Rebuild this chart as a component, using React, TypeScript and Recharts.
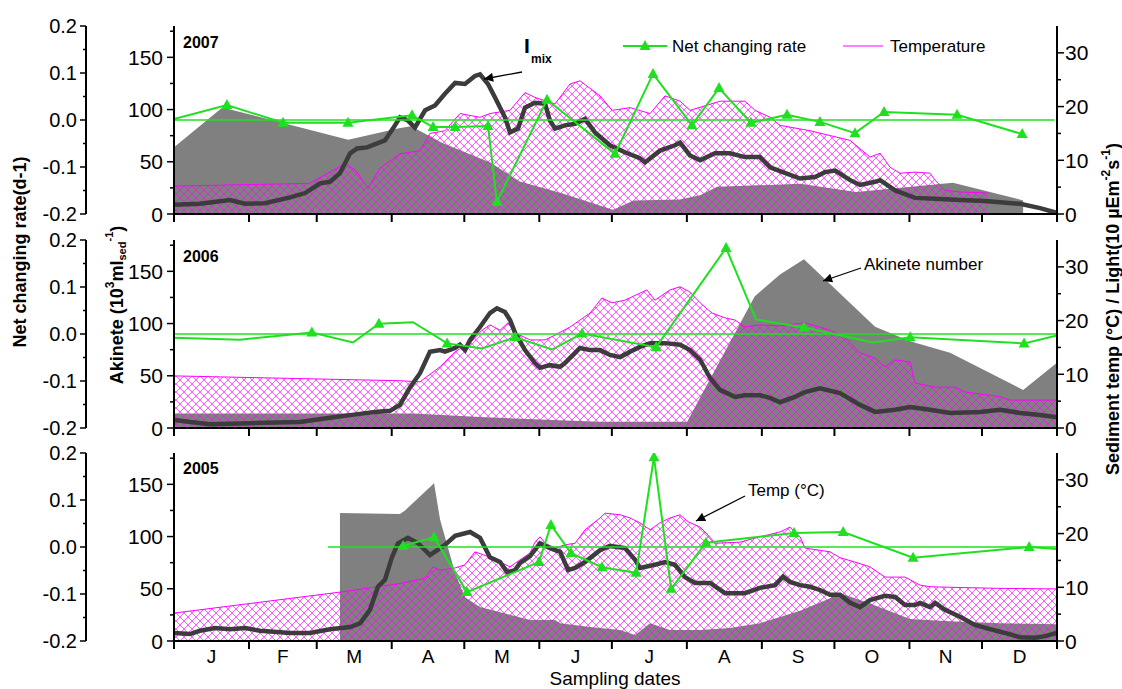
import React from 'react';
import { ComposedChart, Area, Line, XAxis, YAxis } from 'recharts';

// x axis is day of year
const monthStarts = [0, 31, 59, 90, 120, 151, 181, 212, 243, 273, 304, 334, 365];
const monthLetters = ['J', 'F', 'M', 'A', 'M', 'J', 'J', 'A', 'S', 'O', 'N', 'D'];
const akTicks = [0, 25, 50, 75, 100, 125, 150, 175];
const rateTicks = [-0.2, -0.15, -0.1, -0.05, 0, 0.05, 0.1, 0.15, 0.2];
const rightTicks = [0, 5, 10, 15, 20, 25, 30];

// ---- 2007 ----
const akinete2007 = [[0, 64], [20, 102], [72, 71], [93, 82], [98, 84], [111, 68], [131, 49], [143, 31], [160, 20], [181.5, 4], [190, 13], [209, 14], [217.5, 18], [224.5, 26], [259, 29], [282, 21], [322, 30], [351, 13]];
const temp2007 = [[0, 5.2], [56, 5.7], [64.5, 7.8], [70.7, 9.4], [75, 8.2], [80.2, 4.8], [85, 8.5], [93.4, 11.2], [101.7, 11.8], [105.8, 15], [112, 15.5], [118.2, 18.7], [126.5, 18], [130.6, 18.7], [138.9, 19.3], [145.1, 22.6], [149.2, 21.7], [157.5, 20.5], [163.7, 24.2], [167.8, 24.8], [176.1, 22], [181.1, 19.3], [188.5, 19.8], [196.8, 18.7], [203, 22], [209.2, 21], [213.3, 19.3], [225.7, 21], [236, 21], [240.2, 19.3], [246.4, 18], [250.5, 16.5], [262.9, 15.5], [271.2, 14.6], [279.5, 13.7], [287.7, 10.6], [291.9, 11.3], [296, 8.7], [300.1, 7.6], [306.3, 7.8], [312.5, 7.6], [314.6, 6.3], [318.7, 4.4], [324.9, 4.1], [336.5, 3.9]];
const imix2007 = [[0, 1.7], [10.7, 1.9], [23.1, 2.6], [29.4, 1.9], [37.6, 2], [48, 3.1], [54.2, 3.9], [60.4, 5.7], [64.5, 6], [68.6, 7.6], [72.8, 11.3], [75.7, 12.2], [79.8, 12.4], [87.2, 13.7], [90.5, 15.9], [93.4, 18], [96.7, 17.4], [99.6, 16.1], [103.8, 19.3], [107.9, 20.2], [112, 22.4], [116.2, 24.4], [120.3, 24.2], [124.4, 25.7], [126.5, 26], [129.8, 24.2], [132.7, 21.7], [136.8, 18], [138.9, 15.2], [142.2, 15.9], [145.1, 19.8], [149.2, 20.7], [153.4, 20.5], [155.4, 17.4], [157.5, 15.9], [161.6, 16.5], [165.8, 16.8], [169.9, 17.7], [174, 15.2], [180.2, 12.8], [186.4, 11.5], [192.6, 10.4], [194.7, 9.6], [200.9, 11.8], [207.1, 12.8], [209.2, 13.3], [213.3, 10.9], [217.5, 10], [223.6, 11.3], [229.8, 11.3], [236, 10.6], [242.2, 10.6], [246.4, 8.7], [250.5, 8], [258.8, 6.6], [265, 6.9], [269.1, 7.8], [273.3, 8.1], [279.5, 6.3], [283.6, 5.4], [289.8, 6], [291.9, 6.3], [298.1, 4.4], [306.3, 3], [316.7, 2.8], [324.9, 2.6], [335.3, 2.4], [341.5, 2.2], [349.7, 1.9], [358, 1.1], [365, 0.2]];
// [day, rate, sampled]
const rate2007 = [[0, 0.002, 0], [21.9, 0.032, 1], [45.1, -0.006, 1], [71.9, -0.006, 1], [98.4, 0.01, 1], [107.1, -0.015, 1], [116.2, -0.015, 1], [129.8, -0.013, 1], [133.5, -0.174, 1], [154.2, 0.043, 1], [182.3, -0.072, 1], [198, 0.098, 1], [214.1, -0.011, 1], [225.3, 0.068, 1], [238.5, -0.006, 1], [253.4, 0.011, 1], [267, -0.004, 1], [281.5, -0.028, 1], [293.5, 0.017, 1], [323.7, 0.011, 1], [350.6, -0.03, 1]];
const zero2007 = [[0, 0], [364, 0]];

// ---- 2006 ----
const akinete2006 = [[0, 14], [99, 14], [126.5, 10.5], [176, 6], [212.1, 6], [240, 126], [250.5, 147], [260.4, 161.5], [289.8, 97], [304.3, 83], [320.8, 72], [351, 36.5], [365, 62.5]];
const temp2006 = [[0, 9.7], [93.4, 8.8], [101.7, 8.6], [110, 11.4], [116.2, 14.2], [122.4, 15.8], [127.3, 18.2], [130.6, 19.2], [134.8, 18.2], [138.1, 19.6], [141, 17.7], [147.2, 16.4], [153.4, 16.4], [157.5, 17.3], [163.7, 18.8], [172, 21.4], [176.9, 24.2], [181.1, 23.3], [186.4, 23.8], [192.6, 25.1], [195.5, 25.7], [198.8, 23.8], [205, 25.7], [209.2, 26.3], [213.3, 25.3], [217.5, 23.3], [222.4, 21.4], [227.8, 20.5], [231.9, 20.1], [236, 18.8], [242.2, 19.2], [250.5, 19], [260.8, 19.6], [271.2, 18.2], [277.4, 16.8], [283.6, 14], [289.8, 13], [293.9, 11.4], [298.1, 12.7], [304.3, 12.3], [306.3, 8.4], [314.6, 7.6], [322.9, 7.6], [327, 6.7], [337.3, 6.1], [341.5, 5.8], [345.6, 5.2], [365, 5.2]];
const imix2006 = [[0, 1.5], [6.6, 1.1], [14.9, 0.7], [31.4, 0.9], [52.1, 1.1], [64.5, 1.9], [72.8, 2.4], [83.1, 3], [89.3, 3.2], [93.4, 4.3], [97.6, 7.6], [101.7, 10.2], [105.8, 14.2], [110, 14.5], [112, 14.2], [116.2, 14.9], [118.2, 15.5], [120.3, 14.5], [122.4, 16.4], [126.5, 18.8], [130.6, 21.4], [133.5, 22.3], [136.8, 21.6], [138.9, 20.1], [141, 17.7], [145.1, 14.5], [149.2, 12.1], [151.3, 11.2], [155.4, 11.7], [159.6, 11.4], [161.6, 12.1], [165.8, 14], [167.8, 14.9], [172, 14.5], [176.1, 14.5], [180.2, 13.6], [184.4, 13.2], [188.5, 14.2], [192.6, 15.1], [196.8, 15.8], [203, 15.8], [209.2, 15.5], [213.3, 14.5], [217.5, 12.7], [221.6, 9.3], [225.7, 7.1], [231.9, 5.8], [236, 6.1], [242.2, 6.1], [246.4, 5.6], [250.5, 4.8], [256.7, 5.8], [260.8, 6.7], [267, 7.4], [275.3, 6.5], [283.6, 4.3], [289.8, 3], [298.1, 3.4], [304.3, 3.9], [312.5, 3.4], [320.8, 2.8], [333.2, 3], [341.5, 3.4], [349.7, 2.8], [358, 2.4], [365, 2]];
const rate2006 = [[0, -0.008, 0], [27.3, -0.012, 0], [57, 0.003, 1], [74, -0.018, 0], [84.7, 0.022, 1], [98.8, 0.025, 0], [112.9, -0.02, 1], [127.3, -0.031, 0], [141, -0.007, 1], [156.3, -0.033, 0], [168.7, 0.001, 1], [199.3, -0.028, 1], [228.2, 0.183, 1], [240.6, 0.031, 0], [260.4, 0.014, 1], [289, -0.018, 0], [304.3, -0.007, 1], [351.4, -0.02, 1], [365, -0.003, 0]];
const zero2006 = [[0, 0], [365, 0]];

// ---- 2005 ----
const akinete2005 = [[68.6, 122.5], [93.4, 121.5], [95.5, 125], [107.5, 151], [110, 116], [116.2, 65], [120.3, 42], [126.5, 32.5], [147.2, 20], [157.5, 20], [159.6, 17], [172, 13.4], [184.4, 10.5], [190.6, 5.7], [196.8, 17], [205, 10.5], [217.5, 10.5], [229.8, 12.4], [242.2, 17], [250.5, 23], [258.8, 29], [271.2, 41], [275.3, 46], [287.7, 36], [304.3, 21], [320.8, 19], [341.5, 17], [365, 16]];
const temp2005 = [[0, 5.2], [68.6, 9.1], [93.4, 10.7], [103.8, 11.7], [107.1, 13.8], [110, 13.2], [116.2, 13.6], [120.3, 14.2], [124.4, 16.6], [130.6, 15.6], [134.8, 14.7], [138.9, 13.8], [143, 15.1], [147.2, 16.4], [149.2, 18.4], [151.3, 19.4], [153.4, 18.2], [157.5, 17.3], [161.6, 17.9], [165.8, 18.2], [169.9, 20.7], [176.1, 22.9], [178.2, 23.8], [184.4, 23.5], [188.5, 22.9], [192.6, 22], [196.8, 20.7], [200.9, 22], [205, 22.9], [209.2, 23.5], [212.5, 22.2], [217.5, 21.2], [220.8, 19.7], [223.6, 18.2], [234, 18.4], [242.2, 19.4], [250.5, 20.3], [254.6, 21.2], [258.8, 19.4], [260.8, 17.3], [271.2, 16.6], [275.3, 15.5], [281.5, 14.7], [287.7, 13.8], [293.9, 11.9], [302.2, 11.9], [308.4, 10.4], [312.5, 10.1], [320.8, 10], [341.5, 9.8], [365, 9.7]];
const imix2005 = [[0, 1.5], [6.6, 1.3], [10.7, 1.9], [17, 2.4], [23.1, 2.2], [29.4, 2.4], [35.6, 1.9], [48, 1.5], [56.2, 1.5], [64.5, 2.2], [72.8, 2.6], [76.9, 3.3], [81, 5.8], [84.3, 10.1], [87.2, 11.4], [90.1, 15.6], [92.6, 18.2], [96.7, 19.2], [100.9, 18.2], [105.8, 16], [112, 17.9], [116.2, 19.6], [122.4, 20.3], [126.5, 19.2], [130.6, 15.6], [134.8, 14.7], [137.7, 12.8], [141, 13.2], [143, 14.5], [147.2, 15.8], [151.3, 18.2], [155.4, 17.3], [159.6, 16.6], [162.9, 13.2], [165.8, 13.6], [169.9, 14.7], [176.1, 16.9], [180.2, 17.7], [186.4, 17.3], [190.6, 15.1], [192.6, 13.6], [198.8, 14.2], [203, 14.7], [207.1, 14.2], [211.2, 11.9], [215.4, 10.8], [221.6, 10.8], [227.8, 8.9], [236, 8.9], [242.2, 9.9], [248.5, 10.4], [251.8, 12], [254.6, 11], [258.8, 10.4], [262.9, 10.1], [267, 9.5], [271.2, 8.6], [275.3, 8.6], [279.5, 7.1], [283.6, 6.3], [287.7, 7.6], [293.9, 8.4], [298.1, 8.2], [302.2, 6.7], [306.3, 6.7], [308.4, 7.1], [312.5, 6.3], [314.6, 7.1], [318.7, 5.8], [324.9, 4.5], [331.1, 3], [337.3, 2.2], [343.5, 1.5], [349.7, 0.7], [355.9, 0.6], [360.1, 0.9], [365, 1.5]];
const rate2005 = [[94.7, 0.002, 1], [107.5, 0.021, 1], [121.1, -0.096, 1], [150.9, -0.032, 1], [155.8, 0.047, 1], [164.1, -0.013, 1], [176.9, -0.043, 1], [191, -0.055, 1], [198.4, 0.191, 1], [205.5, -0.089, 1], [219.9, 0.009, 1], [256.3, 0.03, 1], [276.6, 0.032, 1], [305.5, -0.023, 1], [353.5, 0.0, 1], [365, -0.004, 0]];
const zero2005 = [[63.7, 0], [365, 0]];

const GREEN = '#1fe01f';
const MAGENTA = '#ff00ff';
const PLOT_W = 883;
const PX_PER_DAY = PLOT_W / 365;

const pts = (arr) => arr.map((p) => ({ day: p[0], v: p[1], sampled: p[2] === 1 }));

const AkTick = (props) => {
  const { x, y, payload } = props;
  const major = payload.value % 50 === 0;
  return (
    <g>
      <line x1={x} x2={x - (major ? 7 : 4)} y1={y} y2={y} stroke="#000" strokeWidth={1.5} />
      {major && (
        <text x={x - 11} y={y} dy="0.36em" textAnchor="end" fontSize={21} fill="#000">
          {payload.value}
        </text>
      )}
    </g>
  );
};

const RateTick = (props) => {
  const { x, y, payload } = props;
  const v = payload.value;
  const major = Math.abs(v * 10 - Math.round(v * 10)) < 1e-6;
  return (
    <g>
      <line x1={x} x2={x - (major ? 6 : 3)} y1={y} y2={y} stroke="#000" strokeWidth={1.5} />
      {major && (
        <text x={x - 9} y={y} dy="0.36em" textAnchor="end" fontSize={20} fill="#000">
          {v.toFixed(1)}
        </text>
      )}
    </g>
  );
};

const RightTick = (props) => {
  const { x, y, payload } = props;
  const major = payload.value % 10 === 0;
  return (
    <g>
      <line x1={x} x2={x + (major ? 7 : 4)} y1={y} y2={y} stroke="#000" strokeWidth={1.5} />
      {major && (
        <text x={x + 8} y={y} dy="0.36em" textAnchor="start" fontSize={21} fill="#000">
          {payload.value}
        </text>
      )}
    </g>
  );
};

const monthTick = (labels) => (props) => {
  const { x, y, payload } = props;
  const i = monthStarts.indexOf(payload.value);
  const mid = i >= 0 && i < 12 ? x + ((monthStarts[i + 1] - monthStarts[i]) / 2) * PX_PER_DAY : x;
  return (
    <g>
      <line x1={x} x2={x} y1={y} y2={y + 8} stroke="#000" strokeWidth={2} />
      {labels && i >= 0 && i < 12 && (
        <text x={mid} y={y + 22} textAnchor="middle" fontSize={19} fill="#000">
          {monthLetters[i]}
        </text>
      )}
    </g>
  );
};

const TriangleDot = (props) => {
  const { cx, cy, payload, index } = props;
  if (!payload || !payload.sampled || cx == null || cy == null) return <g key={`n${index}`} />;
  return <polygon key={`t${index}`} points={`${cx},${cy - 6} ${cx - 5.5},${cy + 4} ${cx + 5.5},${cy + 4}`} fill={GREEN} />;
};

const axisStyle = { stroke: '#000', strokeWidth: 2 };
const M_TOP = 16;

const Panel = ({ top, akinete, temp, imix, rate, zero, last }) => (
  <div style={{ position: 'absolute', left: 0, top: top - M_TOP }}>
    <ComposedChart width={1122} height={M_TOP + 188 + (last ? 34 : 16)} margin={{ top: M_TOP, right: 15, bottom: 0, left: 26 }}>
      <XAxis
        type="number"
        dataKey="day"
        domain={[0, 365]}
        ticks={monthStarts}
        interval={0}
        allowDataOverflow
        tickSize={0}
        tickMargin={0}
        height={last ? 34 : 16}
        axisLine={axisStyle}
        tickLine={false}
        tick={monthTick(last)}
      />
      <YAxis yAxisId="ak" domain={[0, 180]} ticks={akTicks} interval={0} width={88} tickSize={0} tickMargin={0} axisLine={axisStyle} tickLine={false} tick={AkTick} allowDataOverflow />
      <YAxis yAxisId="rate" domain={[-0.2, 0.2]} ticks={rateTicks} interval={0} width={60} tickSize={0} tickMargin={0} axisLine={axisStyle} tickLine={false} tick={RateTick} allowDataOverflow />
      <YAxis yAxisId="r" orientation="right" domain={[0, 35]} ticks={rightTicks} interval={0} width={50} tickSize={0} tickMargin={0} axisLine={axisStyle} tickLine={false} tick={RightTick} allowDataOverflow />

      <Area yAxisId="ak" data={pts(akinete)} dataKey="v" type="linear" fill="#808080" fillOpacity={1} stroke="none" isAnimationActive={false} />
      <Area yAxisId="r" data={pts(temp)} dataKey="v" type="linear" fill="url(#magentaHatch)" fillOpacity={1} stroke={MAGENTA} strokeWidth={1} isAnimationActive={false} />
      <Line yAxisId="r" data={pts(imix)} dataKey="v" type="linear" stroke="#3c3c3c" strokeWidth={4.5} dot={false} isAnimationActive={false} />
      <Line yAxisId="rate" data={pts(zero)} dataKey="v" type="linear" stroke={GREEN} strokeWidth={1.5} dot={false} isAnimationActive={false} />
      <Line yAxisId="rate" data={pts(rate)} dataKey="v" type="linear" stroke={GREEN} strokeWidth={2} dot={TriangleDot} isAnimationActive={false} />
    </ComposedChart>
  </div>
);

const App = () => (
  <div style={{ position: 'absolute', left: 0, top: 0, width: 1122, height: 689, background: '#fff', fontFamily: '"Liberation Sans", Arial, sans-serif', overflow: 'hidden' }}>
    <svg width={0} height={0} style={{ position: 'absolute' }}>
      <defs>
        <pattern id="magentaHatch" patternUnits="userSpaceOnUse" width={8} height={8}>
          <path d="M0,0 L8,8 M8,0 L0,8" stroke={MAGENTA} strokeWidth={0.9} strokeOpacity={0.7} fill="none" />
        </pattern>
      </defs>
    </svg>

    <Panel top={26} akinete={akinete2007} temp={temp2007} imix={imix2007} rate={rate2007} zero={zero2007} last={false} />
    <Panel top={240} akinete={akinete2006} temp={temp2006} imix={imix2006} rate={rate2006} zero={zero2006} last={false} />
    <Panel top={453} akinete={akinete2005} temp={temp2005} imix={imix2005} rate={rate2005} zero={zero2005} last />

    <svg width={1122} height={689} style={{ position: 'absolute', left: 0, top: 0, pointerEvents: 'none' }}>
      <defs>
        <marker id="arrowHead" viewBox="0 0 10 10" refX={10} refY={5} markerWidth={9} markerHeight={7} orient="auto">
          <path d="M0,0 L10,5 L0,10 z" fill="#000" />
        </marker>
      </defs>

      {/* panel years */}
      <text x={183} y={48} fontSize={16} fontWeight="bold">2007</text>
      <text x={183} y={262} fontSize={16} fontWeight="bold">2006</text>
      <text x={183} y={474} fontSize={16} fontWeight="bold">2005</text>

      {/* legend */}
      <line x1={623} x2={667} y1={46} y2={46} stroke={GREEN} strokeWidth={2} />
      <polygon points="645,40 639.5,50 650.5,50" fill={GREEN} />
      <text x={672} y={52} fontSize={17}>Net changing rate</text>
      <line x1={843} x2={883} y1={46} y2={46} stroke={MAGENTA} strokeWidth={1} />
      <text x={890} y={52} fontSize={17}>Temperature</text>

      {/* annotations */}
      <text x={524} y={53} fontSize={21} fontWeight="bold">I</text>
      <text x={531} y={63} fontSize={12} fontWeight="bold">mix</text>
      <line x1={522} y1={72} x2={484} y2={79} stroke="#000" strokeWidth={1.3} markerEnd="url(#arrowHead)" />
      <text x={864} y={270} fontSize={17}>Akinete number</text>
      <line x1={861} y1={268} x2={823} y2={281} stroke="#000" strokeWidth={1.3} markerEnd="url(#arrowHead)" />
      <text x={748} y={496} fontSize={17}>Temp (°C)</text>
      <line x1={745} y1={496} x2={696} y2={521} stroke="#000" strokeWidth={1.3} markerEnd="url(#arrowHead)" />

      {/* axis titles */}
      <text transform="translate(20,252) rotate(-90)" textAnchor="middle" dominantBaseline="central" fontSize={18} fontWeight="bold">
        Net changing rate(d-1)
      </text>
      <text transform="translate(117,305) rotate(-90)" textAnchor="middle" dominantBaseline="central" fontSize={18} fontWeight="bold">
        Akinete (10<tspan dy={-7} fontSize={12}>3</tspan>
        <tspan dy={7}>ml</tspan>
        <tspan dy={5} fontSize={11}>sed</tspan>
        <tspan dy={-13} fontSize={11}>-1</tspan>
        <tspan dy={8}>)</tspan>
      </text>
      <text transform="translate(1113,309) rotate(-90)" textAnchor="middle" dominantBaseline="central" fontSize={18} fontWeight="bold">
        Sediment temp (°C) /  Light(10 µEm<tspan dy={-7} fontSize={12}>-2</tspan>
        <tspan dy={7}>s</tspan>
        <tspan dy={-7} fontSize={12}>-1</tspan>
        <tspan dy={7}>)</tspan>
      </text>
      <text x={615} y={685} textAnchor="middle" fontSize={19}>Sampling dates</text>
    </svg>
  </div>
);

export default App;
